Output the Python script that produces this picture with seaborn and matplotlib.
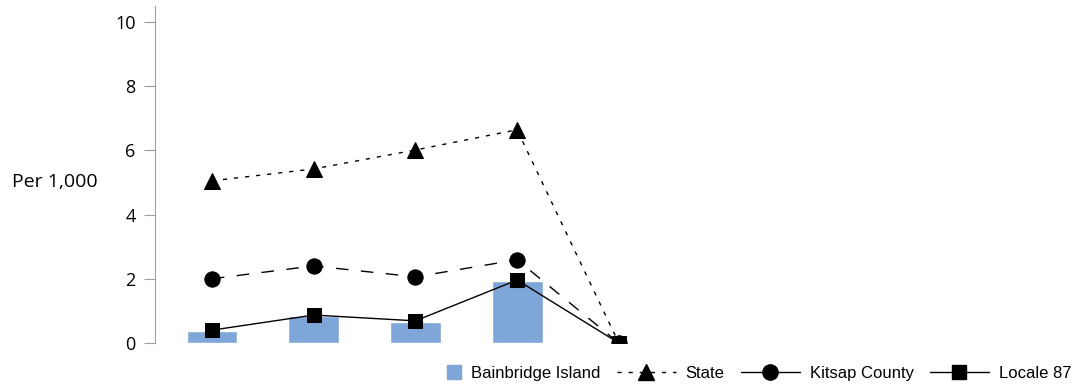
import numpy as np
import pandas as pd
import matplotlib
matplotlib.use("Agg")
import matplotlib.pyplot as plt
import seaborn as sns
from matplotlib.lines import Line2D
from matplotlib.patches import Patch, Rectangle
from matplotlib.legend_handler import HandlerPatch

# data (per 1,000)
periods = [0, 1, 2, 3, 4]
bainbridge = [0.37, 0.85, 0.65, 1.93]
state = [5.05, 5.42, 6.01, 6.64, 0.0]
kitsap = [2.0, 2.4, 2.06, 2.59, 0.0]
locale87 = [0.40, 0.87, 0.69, 1.96, 0.0]

bar_color = '#7ea6d8'

sns.set_style("white")
plt.rcParams['font.family'] = ['Liberation Sans', 'DejaVu Sans']

fig = plt.figure(figsize=(10.86, 3.88), dpi=100)
ax = fig.add_axes([0.1427, 0.116, 0.842, 0.869])

bar_df = pd.DataFrame({'x': periods[:4], 'y': bainbridge})
sns.barplot(data=bar_df, x='x', y='y', color=bar_color, saturation=1,
            width=0.5, ax=ax, native_scale=True)

sns.lineplot(x=periods, y=state, ax=ax, color='black', lw=1,
             linestyle=(0, (3, 5)), marker='^', markersize=11, mec='black')
sns.lineplot(x=periods, y=kitsap, ax=ax, color='black', lw=1,
             linestyle=(0, (9, 9)), marker='o', markersize=11, mec='black')
sns.lineplot(x=periods, y=locale87, ax=ax, color='black', lw=1,
             marker='s', markersize=10, mec='black')

ax.set_xlim(-0.56, 8.43)
ax.set_ylim(0, 10.5)
ax.set_yticks([0, 2, 4, 6, 8, 10])
ax.set_xticks([])
ax.set_xlabel('')
ax.set_ylabel('Per 1,000', rotation=0, fontsize=14, color='black',
              family=['Open Sans', 'DejaVu Sans'])
ax.yaxis.set_label_coords(-0.11, 0.45)
for s in ['top', 'right', 'bottom']:
    ax.spines[s].set_visible(False)
ax.spines['left'].set_color('#a0a0a0')
ax.tick_params(axis='y', left=True, length=8, color='#a0a0a0', labelsize=13,
               labelcolor='black', pad=6)
for t in ax.get_yticklabels():
    t.set_family(['Open Sans', 'DejaVu Sans'])


# small square sitting at the right end of the legend handle box
def small_square(legend, orig_handle, xdescent, ydescent, width, height, fontsize):
    s = 10
    return Rectangle((width - xdescent - s, -ydescent + (height - s) / 2), s, s)


handles = [
    Patch(color=bar_color),
    Line2D([], [], color='black', lw=1, linestyle=(0, (3, 5)), marker='^', markersize=11),
    Line2D([], [], color='black', lw=1, linestyle='-', marker='o', markersize=11),
    Line2D([], [], color='black', lw=1, marker='s', markersize=10),
]
labels = ['Bainbridge Island', 'State', 'Kitsap County', 'Locale 87']
fig.legend(handles, labels, loc='lower right', bbox_to_anchor=(1.0, -0.02), ncol=4,
           frameon=False, fontsize=12, handlelength=3.5, handleheight=0.8,
           columnspacing=1.0, handletextpad=0.6, labelcolor='black',
           handler_map={Patch: HandlerPatch(patch_func=small_square)})

fig.savefig('out.png', dpi=100)
